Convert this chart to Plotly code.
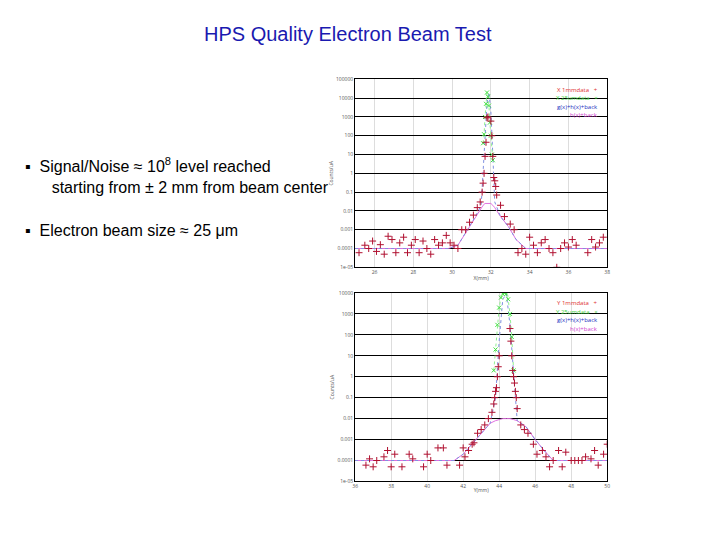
import plotly.graph_objects as go

# top panel: X scan
x1_mm = [25.2, 25.5, 25.7, 25.9, 26.1, 26.3, 26.5, 26.7, 26.9, 27.1, 27.3, 27.5, 27.7, 27.9, 28.1, 28.3,
         28.5, 28.7, 28.9, 29.1, 29.3, 29.5, 29.7, 29.9, 30.1, 30.3, 30.5, 30.7, 30.9, 31.1, 31.3, 31.45,
         31.55, 31.6, 31.65, 31.7, 31.75, 31.8, 31.85, 32.0, 32.05, 32.1, 32.15, 32.2, 32.25, 32.3, 32.5,
         32.7, 33.0, 33.2, 33.4, 33.6, 33.8, 34.0, 34.2, 34.4, 34.6, 34.8, 35.0, 35.2, 35.4, 35.6, 35.8,
         36.0, 36.2, 36.4, 37.0, 37.2, 37.4, 37.6, 37.8]
y1_mm = [6e-5, 1.5e-4, 1e-4, 2.5e-4, 7e-5, 1.6e-4, 5e-5, 4.5e-4, 3e-4, 6e-5, 2e-4, 4e-4, 6e-5, 1.5e-4, 3e-4,
         6e-5, 2.5e-4, 1e-4, 5e-5, 3e-4, 1.5e-4, 2e-4, 5e-4, 2e-4, 1.5e-4, 1e-4, 1e-3, 1e-3, 2.5e-3, 6e-3,
         1.5e-2, 3e-2, 0.1, 0.3, 1, 8, 45, 900, 1000, 600, 100, 8, 0.6, 0.4, 0.2, 0.07, 0.02, 5e-3, 2e-3,
         1e-3, 6e-5, 1e-4, 5e-5, 4e-4, 1.5e-4, 6e-5, 2e-4, 3e-4, 1e-4, 6e-5, 1e-5, 1e-4, 2e-4, 1.2e-4,
         3e-4, 1.5e-4, 6e-5, 3e-4, 1.2e-4, 2e-4, 4e-4]
x1_25 = [31.6, 31.65, 31.7, 31.75, 31.8, 31.85, 31.9, 31.95, 32.0, 32.05, 32.1]
y1_25 = [40, 120, 1000, 5000, 20000, 12000, 4000, 500, 100, 10, 5]
x1_fit = [25.0, 29.8, 30.3, 30.8, 31.2, 31.5, 31.6, 31.7, 31.8, 31.9, 32.0, 32.1, 32.2, 32.5, 32.9, 33.3, 33.8, 38.0]
y1_gh = [1e-4, 1e-4, 1.5e-4, 1e-3, 5e-3, 2e-2, 1, 100, 5000, 20000, 2000, 10, 3e-2, 5e-3, 1.5e-3, 3e-4, 1e-4, 1e-4]
y1_h = [1e-4, 1e-4, 1.5e-4, 1e-3, 5e-3, 1.5e-2, 2e-2, 2.5e-2, 2.5e-2, 2.5e-2, 2.5e-2, 2e-2, 1.5e-2, 5e-3, 1.5e-3, 3e-4, 1e-4, 1e-4]

# bottom panel: Y scan
x2_mm = [36.6, 36.8, 37.0, 37.2, 37.6, 37.8, 38.0, 38.2, 38.6, 39.0, 39.2, 39.8, 40.0, 40.2, 40.6, 40.9,
         41.1, 41.8, 42.0, 42.1, 42.3, 42.5, 42.6, 42.8, 43.0, 43.2, 43.4, 43.6, 43.7, 43.75, 43.8, 43.85,
         43.9, 43.95, 44.0, 44.6, 44.65, 44.7, 44.75, 44.8, 44.85, 44.9, 44.95, 45.0, 45.2, 45.4, 45.6, 45.9,
         46.1, 46.4, 46.6, 46.8, 47.0, 47.3, 47.5, 47.7, 48.0, 48.2, 48.4, 48.6, 48.8, 49.1, 49.3, 49.5, 49.8, 50.0]
y2_mm = [6e-5, 1.2e-4, 5e-5, 1e-4, 1.5e-4, 3e-4, 5e-5, 2e-4, 5e-5, 2e-4, 1.2e-4, 5e-5, 2e-4, 1e-4, 4e-4,
         4e-4, 6e-5, 6e-5, 4e-4, 1.5e-4, 3e-4, 6e-4, 7e-4, 2e-3, 3e-3, 5e-3, 1e-2, 2e-2, 0.05, 0.1, 0.2, 0.3,
         1, 3, 10, 200, 50, 10, 2, 1, 0.5, 0.2, 0.1, 0.03, 5e-3, 3e-3, 2e-3, 6e-4, 2e-4, 3e-4, 1.5e-4, 5e-5,
         1e-4, 3e-4, 5e-5, 2.5e-4, 1e-4, 1e-4, 1e-4, 1e-4, 1.5e-4, 1.2e-4, 3e-4, 6e-5, 2e-4, 6e-4]
x2_25 = [43.7, 43.8, 43.9, 44.0, 44.1, 44.2, 44.3, 44.4, 44.5, 44.6, 44.7, 44.8]
y2_25 = [2, 20, 300, 2000, 6000, 9000, 10000, 9000, 5000, 1000, 80, 2]
x2_fit = [36.0, 41.5, 42.0, 42.5, 43.0, 43.5, 43.8, 44.0, 44.2, 44.4, 44.6, 44.8, 45.0, 45.5, 46.0, 46.5, 47.0, 50.0]
y2_gh = [1e-4, 1e-4, 2e-4, 6e-4, 2e-3, 6e-3, 0.1, 50, 5000, 9000, 300, 1, 8e-3, 4e-3, 1e-3, 3e-4, 1e-4, 1e-4]
y2_h = [1e-4, 1e-4, 2e-4, 6e-4, 2e-3, 6e-3, 8e-3, 9e-3, 1e-2, 1e-2, 1e-2, 9e-3, 8e-3, 4e-3, 1e-3, 3e-4, 1e-4, 1e-4]

tick_text = ["1e-05", "0.0001", "0.001", "0.01", "0.1", "1", "10", "100", "1000", "10000", "100000"]

panels = [
    dict(ax="", xr=[25, 38], xt=[26, 28, 30, 32, 34, 36, 38], yr=[-5, 5], dom=[0.520, 0.872],
         xd=x1_mm, yd=y1_mm, x25=x1_25, y25=y1_25, xf=x1_fit, gh=y1_gh, h=y1_h, name="X", xlab="X(mm)"),
    dict(ax="2", xr=[36, 50], xt=[36, 38, 40, 42, 44, 46, 48, 50], yr=[-5, 4], dom=[0.119, 0.472],
         xd=x2_mm, yd=y2_mm, x25=x2_25, y25=y2_25, xf=x2_fit, gh=y2_gh, h=y2_h, name="Y", xlab="Y(mm)"),
]

fig = go.Figure()
for p in panels:
    xa, ya = "x" + p["ax"], "y" + p["ax"]
    fig.add_trace(go.Scatter(x=p["xf"], y=p["h"], mode="lines", xaxis=xa, yaxis=ya,
                             line=dict(color="#e070e0", width=1), name="h(x)+back"))
    fig.add_trace(go.Scatter(x=p["xf"], y=p["gh"], mode="lines", xaxis=xa, yaxis=ya,
                             line=dict(color="#7f8fe0", width=1, dash="dot"), name="g(x)+h(x)+back"))
    fig.add_trace(go.Scatter(x=p["x25"], y=p["y25"], mode="markers+lines", xaxis=xa, yaxis=ya,
                             marker=dict(symbol="x-thin", size=4, color="#40e040", line=dict(width=1, color="#40e040")),
                             line=dict(color="#90f090", width=1, dash="dot"), name=p["name"] + " 25umdata"))
    fig.add_trace(go.Scatter(x=p["xd"], y=p["yd"], mode="markers", xaxis=xa, yaxis=ya,
                             marker=dict(symbol="cross-thin", size=5, color="#b01030", line=dict(width=1, color="#b01030")),
                             name=p["name"] + " 1mmdata"))
    ax_style = dict(showline=True, linecolor="black", linewidth=1, mirror=True,
                    tickfont=dict(size=5, color="#555"), ticks="")
    fig.update_layout({
        ("xaxis" + p["ax"]): dict(domain=[0.482, 0.835], range=p["xr"], tickvals=p["xt"],
                                  showgrid=True, gridcolor="#ddd", zeroline=False, anchor=ya,
                                  title=dict(text=p["xlab"], font=dict(size=5, color="#555"), standoff=0),
                                  **ax_style),
        ("yaxis" + p["ax"]): dict(domain=p["dom"], type="log", range=p["yr"],
                                  tickvals=[10 ** k for k in range(p["yr"][0], p["yr"][1] + 1)],
                                  ticktext=tick_text[:p["yr"][1] - p["yr"][0] + 1],
                                  showgrid=True, gridcolor="black", gridwidth=1, anchor=xa,
                                  title=dict(text="Counts/uA", font=dict(size=5, color="#555"), standoff=2),
                                  **ax_style),
    })
    top = p["dom"][1]
    for i, (txt, col) in enumerate([(p["name"] + " 1mmdata   +", "#e03030"), (p["name"] + " 25umdata   ×", "#40d040"),
                                    ("g(x)+h(x)+back", "#2030c0"), ("h(x)+back", "#d040d0")]):
        fig.add_annotation(x=0.825, y=top - 0.008 - i * 0.016, xref="paper", yref="paper", text=txt,
                           showarrow=False, xanchor="right", yanchor="top", font=dict(size=6, color=col))

fig.add_annotation(x=0.472, y=0.956, xref="paper", yref="paper", text="HPS Quality Electron Beam Test",
                   showarrow=False, yanchor="middle", font=dict(size=20, color="#1a1ab0", family="Liberation Sans"))
bullets = [(0.711, "▪  Signal/Noise ≈ 10<sup>8</sup> level reached"),
           (0.670, "      starting from ± 2 mm from beam center"),
           (0.589, "▪  Electron beam size ≈ 25 μm")]
for yy, txt in bullets:
    fig.add_annotation(x=0.017, y=yy, xref="paper", yref="paper", text=txt, showarrow=False,
                       xanchor="left", yanchor="middle", font=dict(size=16, color="black", family="Liberation Sans"))

fig.update_layout(width=720, height=540, margin=dict(l=0, r=0, t=0, b=0), showlegend=False,
                  paper_bgcolor="white", plot_bgcolor="white")
fig.write_html("out.html")
